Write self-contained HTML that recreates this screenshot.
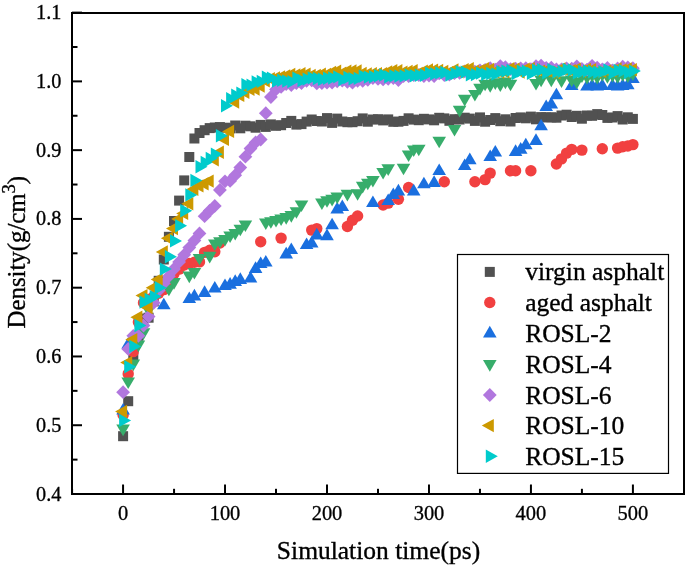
<!DOCTYPE html>
<html><head><meta charset="utf-8"><style>
html,body{margin:0;padding:0;background:#fff;width:685px;height:567px;overflow:hidden}
svg{display:block;will-change:transform;}
text{stroke:#000;stroke-width:0.35px;font-family:"Liberation Serif",serif}
</style></head><body>
<svg width="685" height="567" viewBox="0 0 685 567">
<rect width="685" height="567" fill="#fff"/>
<g><rect x="118.1" y="431.2" width="10" height="10" fill="#515151"/><rect x="123.2" y="396.2" width="10" height="10" fill="#515151"/><rect x="128.3" y="351.7" width="10" height="10" fill="#515151"/><rect x="133.4" y="330.8" width="10" height="10" fill="#515151"/><rect x="138.5" y="313.6" width="10" height="10" fill="#515151"/><rect x="143.6" y="312.7" width="10" height="10" fill="#515151"/><rect x="148.7" y="296.4" width="10" height="10" fill="#515151"/><rect x="153.7" y="275.8" width="10" height="10" fill="#515151"/><rect x="158.8" y="254.5" width="10" height="10" fill="#515151"/><rect x="163.9" y="231.8" width="10" height="10" fill="#515151"/><rect x="169.0" y="216.0" width="10" height="10" fill="#515151"/><rect x="174.1" y="195.6" width="10" height="10" fill="#515151"/><rect x="179.2" y="175.4" width="10" height="10" fill="#515151"/><rect x="184.3" y="152.0" width="10" height="10" fill="#515151"/><rect x="189.4" y="133.5" width="10" height="10" fill="#515151"/><rect x="194.5" y="128.0" width="10" height="10" fill="#515151"/><rect x="199.6" y="125.2" width="10" height="10" fill="#515151"/><rect x="204.7" y="123.1" width="10" height="10" fill="#515151"/><rect x="209.8" y="122.5" width="10" height="10" fill="#515151"/><rect x="214.9" y="122.1" width="10" height="10" fill="#515151"/><rect x="220.0" y="122.7" width="10" height="10" fill="#515151"/><rect x="225.1" y="123.4" width="10" height="10" fill="#515151"/><rect x="230.2" y="120.5" width="10" height="10" fill="#515151"/><rect x="235.3" y="123.3" width="10" height="10" fill="#515151"/><rect x="240.4" y="120.7" width="10" height="10" fill="#515151"/><rect x="245.5" y="121.3" width="10" height="10" fill="#515151"/><rect x="250.6" y="122.7" width="10" height="10" fill="#515151"/><rect x="255.7" y="119.9" width="10" height="10" fill="#515151"/><rect x="260.8" y="121.9" width="10" height="10" fill="#515151"/><rect x="265.9" y="119.4" width="10" height="10" fill="#515151"/><rect x="271.0" y="120.8" width="10" height="10" fill="#515151"/><rect x="276.1" y="120.2" width="10" height="10" fill="#515151"/><rect x="281.2" y="118.0" width="10" height="10" fill="#515151"/><rect x="286.3" y="115.9" width="10" height="10" fill="#515151"/><rect x="291.4" y="119.6" width="10" height="10" fill="#515151"/><rect x="296.5" y="119.1" width="10" height="10" fill="#515151"/><rect x="301.6" y="116.6" width="10" height="10" fill="#515151"/><rect x="306.7" y="114.5" width="10" height="10" fill="#515151"/><rect x="311.8" y="116.0" width="10" height="10" fill="#515151"/><rect x="316.9" y="116.5" width="10" height="10" fill="#515151"/><rect x="322.0" y="113.1" width="10" height="10" fill="#515151"/><rect x="327.1" y="117.9" width="10" height="10" fill="#515151"/><rect x="332.2" y="113.6" width="10" height="10" fill="#515151"/><rect x="337.3" y="116.5" width="10" height="10" fill="#515151"/><rect x="342.4" y="117.2" width="10" height="10" fill="#515151"/><rect x="347.5" y="117.2" width="10" height="10" fill="#515151"/><rect x="352.6" y="116.2" width="10" height="10" fill="#515151"/><rect x="357.7" y="113.4" width="10" height="10" fill="#515151"/><rect x="362.8" y="116.7" width="10" height="10" fill="#515151"/><rect x="367.9" y="114.5" width="10" height="10" fill="#515151"/><rect x="373.0" y="114.2" width="10" height="10" fill="#515151"/><rect x="378.1" y="115.4" width="10" height="10" fill="#515151"/><rect x="383.2" y="114.4" width="10" height="10" fill="#515151"/><rect x="388.3" y="116.8" width="10" height="10" fill="#515151"/><rect x="393.4" y="116.7" width="10" height="10" fill="#515151"/><rect x="398.5" y="115.9" width="10" height="10" fill="#515151"/><rect x="403.6" y="113.3" width="10" height="10" fill="#515151"/><rect x="408.7" y="114.6" width="10" height="10" fill="#515151"/><rect x="413.8" y="115.2" width="10" height="10" fill="#515151"/><rect x="418.9" y="113.8" width="10" height="10" fill="#515151"/><rect x="424.0" y="114.4" width="10" height="10" fill="#515151"/><rect x="429.1" y="115.3" width="10" height="10" fill="#515151"/><rect x="434.2" y="112.8" width="10" height="10" fill="#515151"/><rect x="439.3" y="113.4" width="10" height="10" fill="#515151"/><rect x="444.4" y="115.8" width="10" height="10" fill="#515151"/><rect x="449.5" y="114.2" width="10" height="10" fill="#515151"/><rect x="454.6" y="114.5" width="10" height="10" fill="#515151"/><rect x="459.7" y="112.7" width="10" height="10" fill="#515151"/><rect x="464.8" y="113.6" width="10" height="10" fill="#515151"/><rect x="469.9" y="115.9" width="10" height="10" fill="#515151"/><rect x="475.0" y="112.4" width="10" height="10" fill="#515151"/><rect x="480.1" y="116.7" width="10" height="10" fill="#515151"/><rect x="485.2" y="115.0" width="10" height="10" fill="#515151"/><rect x="490.3" y="113.1" width="10" height="10" fill="#515151"/><rect x="495.3" y="116.2" width="10" height="10" fill="#515151"/><rect x="500.4" y="114.3" width="10" height="10" fill="#515151"/><rect x="505.5" y="116.5" width="10" height="10" fill="#515151"/><rect x="510.6" y="113.0" width="10" height="10" fill="#515151"/><rect x="515.7" y="112.4" width="10" height="10" fill="#515151"/><rect x="520.8" y="113.3" width="10" height="10" fill="#515151"/><rect x="525.9" y="111.6" width="10" height="10" fill="#515151"/><rect x="531.0" y="114.3" width="10" height="10" fill="#515151"/><rect x="536.1" y="112.1" width="10" height="10" fill="#515151"/><rect x="541.2" y="112.4" width="10" height="10" fill="#515151"/><rect x="546.3" y="112.3" width="10" height="10" fill="#515151"/><rect x="551.4" y="112.7" width="10" height="10" fill="#515151"/><rect x="556.5" y="110.5" width="10" height="10" fill="#515151"/><rect x="561.6" y="109.7" width="10" height="10" fill="#515151"/><rect x="566.7" y="112.0" width="10" height="10" fill="#515151"/><rect x="571.8" y="110.8" width="10" height="10" fill="#515151"/><rect x="576.9" y="113.7" width="10" height="10" fill="#515151"/><rect x="582.0" y="110.5" width="10" height="10" fill="#515151"/><rect x="587.1" y="110.8" width="10" height="10" fill="#515151"/><rect x="592.2" y="109.1" width="10" height="10" fill="#515151"/><rect x="597.3" y="110.0" width="10" height="10" fill="#515151"/><rect x="602.4" y="112.9" width="10" height="10" fill="#515151"/><rect x="607.5" y="112.5" width="10" height="10" fill="#515151"/><rect x="612.6" y="111.1" width="10" height="10" fill="#515151"/><rect x="617.7" y="114.5" width="10" height="10" fill="#515151"/><rect x="622.8" y="112.3" width="10" height="10" fill="#515151"/><rect x="627.9" y="113.9" width="10" height="10" fill="#515151"/></g>
<g><circle cx="123.1" cy="414.9" r="5.7" fill="#F14040"/><circle cx="128.2" cy="373.9" r="5.7" fill="#F14040"/><circle cx="133.3" cy="351.6" r="5.7" fill="#F14040"/><circle cx="138.4" cy="322.1" r="5.7" fill="#F14040"/><circle cx="143.5" cy="302.8" r="5.7" fill="#F14040"/><circle cx="148.6" cy="299.4" r="5.7" fill="#F14040"/><circle cx="153.7" cy="296.6" r="5.7" fill="#F14040"/><circle cx="158.7" cy="293.2" r="5.7" fill="#F14040"/><circle cx="163.8" cy="289.6" r="5.7" fill="#F14040"/><circle cx="168.9" cy="282.2" r="5.7" fill="#F14040"/><circle cx="174.0" cy="273.6" r="5.7" fill="#F14040"/><circle cx="179.1" cy="269.1" r="5.7" fill="#F14040"/><circle cx="184.2" cy="265.0" r="5.7" fill="#F14040"/><circle cx="189.3" cy="263.4" r="5.7" fill="#F14040"/><circle cx="194.4" cy="262.2" r="5.7" fill="#F14040"/><circle cx="199.5" cy="261.9" r="5.7" fill="#F14040"/><circle cx="204.6" cy="252.4" r="5.7" fill="#F14040"/><circle cx="209.7" cy="250.3" r="5.7" fill="#F14040"/><circle cx="214.8" cy="251.7" r="5.7" fill="#F14040"/><circle cx="219.9" cy="243.0" r="5.7" fill="#F14040"/><circle cx="260.7" cy="241.8" r="5.7" fill="#F14040"/><circle cx="281.1" cy="238.1" r="5.7" fill="#F14040"/><circle cx="311.7" cy="230.1" r="5.7" fill="#F14040"/><circle cx="316.8" cy="228.6" r="5.7" fill="#F14040"/><circle cx="347.4" cy="226.5" r="5.7" fill="#F14040"/><circle cx="352.5" cy="220.3" r="5.7" fill="#F14040"/><circle cx="357.6" cy="216.0" r="5.7" fill="#F14040"/><circle cx="383.1" cy="205.0" r="5.7" fill="#F14040"/><circle cx="388.2" cy="203.1" r="5.7" fill="#F14040"/><circle cx="398.4" cy="199.2" r="5.7" fill="#F14040"/><circle cx="408.6" cy="187.5" r="5.7" fill="#F14040"/><circle cx="444.3" cy="181.8" r="5.7" fill="#F14040"/><circle cx="474.9" cy="181.8" r="5.7" fill="#F14040"/><circle cx="485.1" cy="179.6" r="5.7" fill="#F14040"/><circle cx="490.2" cy="173.1" r="5.7" fill="#F14040"/><circle cx="510.5" cy="170.8" r="5.7" fill="#F14040"/><circle cx="515.6" cy="170.8" r="5.7" fill="#F14040"/><circle cx="530.9" cy="170.8" r="5.7" fill="#F14040"/><circle cx="556.4" cy="164.0" r="5.7" fill="#F14040"/><circle cx="561.5" cy="158.9" r="5.7" fill="#F14040"/><circle cx="566.6" cy="153.1" r="5.7" fill="#F14040"/><circle cx="571.7" cy="149.4" r="5.7" fill="#F14040"/><circle cx="581.9" cy="150.1" r="5.7" fill="#F14040"/><circle cx="602.3" cy="148.8" r="5.7" fill="#F14040"/><circle cx="617.6" cy="148.1" r="5.7" fill="#F14040"/><circle cx="622.7" cy="146.7" r="5.7" fill="#F14040"/><circle cx="627.8" cy="146.0" r="5.7" fill="#F14040"/><circle cx="632.9" cy="144.6" r="5.7" fill="#F14040"/></g>
<g><path d="M123.1 402.9L129.9 414.5H116.3Z" fill="#1A6FDF"/><path d="M128.2 336.9L135.0 348.5H121.4Z" fill="#1A6FDF"/><path d="M163.8 297.7L170.6 309.3H157.0Z" fill="#1A6FDF"/><path d="M189.3 291.5L196.1 303.1H182.5Z" fill="#1A6FDF"/><path d="M194.4 288.8L201.2 300.4H187.6Z" fill="#1A6FDF"/><path d="M204.6 285.3L211.4 296.9H197.8Z" fill="#1A6FDF"/><path d="M214.8 280.9L221.6 292.5H208.0Z" fill="#1A6FDF"/><path d="M225.0 278.5L231.8 290.1H218.2Z" fill="#1A6FDF"/><path d="M230.1 277.1L236.9 288.7H223.3Z" fill="#1A6FDF"/><path d="M235.2 274.3L242.0 285.9H228.4Z" fill="#1A6FDF"/><path d="M240.3 272.3L247.1 283.9H233.5Z" fill="#1A6FDF"/><path d="M250.5 270.9L257.3 282.5H243.7Z" fill="#1A6FDF"/><path d="M255.6 261.3L262.4 272.9H248.8Z" fill="#1A6FDF"/><path d="M260.7 256.4L267.5 268.0H253.9Z" fill="#1A6FDF"/><path d="M265.8 254.9L272.6 266.5H259.0Z" fill="#1A6FDF"/><path d="M286.2 246.8L293.0 258.4H279.4Z" fill="#1A6FDF"/><path d="M291.3 242.5L298.1 254.1H284.5Z" fill="#1A6FDF"/><path d="M306.6 237.4L313.4 249.0H299.8Z" fill="#1A6FDF"/><path d="M311.7 235.8L318.5 247.4H304.9Z" fill="#1A6FDF"/><path d="M316.8 227.8L323.6 239.4H310.0Z" fill="#1A6FDF"/><path d="M327.0 228.6L333.8 240.2H320.2Z" fill="#1A6FDF"/><path d="M332.1 217.7L338.9 229.3H325.3Z" fill="#1A6FDF"/><path d="M337.2 201.8L344.0 213.4H330.4Z" fill="#1A6FDF"/><path d="M342.3 199.4L349.1 211.0H335.5Z" fill="#1A6FDF"/><path d="M372.9 195.5L379.7 207.1H366.1Z" fill="#1A6FDF"/><path d="M388.2 193.4L395.0 205.0H381.4Z" fill="#1A6FDF"/><path d="M393.3 187.5L400.1 199.1H386.5Z" fill="#1A6FDF"/><path d="M398.4 183.8L405.2 195.4H391.6Z" fill="#1A6FDF"/><path d="M413.7 183.8L420.5 195.4H406.9Z" fill="#1A6FDF"/><path d="M423.9 176.7L430.7 188.3H417.1Z" fill="#1A6FDF"/><path d="M434.1 175.3L440.9 186.9H427.3Z" fill="#1A6FDF"/><path d="M439.2 163.5L446.0 175.1H432.4Z" fill="#1A6FDF"/><path d="M464.7 158.4L471.5 170.0H457.9Z" fill="#1A6FDF"/><path d="M469.8 152.6L476.6 164.2H463.0Z" fill="#1A6FDF"/><path d="M490.2 149.4L497.0 161.0H483.4Z" fill="#1A6FDF"/><path d="M495.3 145.0L502.1 156.6H488.5Z" fill="#1A6FDF"/><path d="M515.6 144.3L522.4 155.9H508.8Z" fill="#1A6FDF"/><path d="M520.7 142.1L527.5 153.7H513.9Z" fill="#1A6FDF"/><path d="M525.8 137.7L532.6 149.3H519.0Z" fill="#1A6FDF"/><path d="M536.0 133.3L542.8 144.9H529.2Z" fill="#1A6FDF"/><path d="M541.1 118.7L547.9 130.3H534.3Z" fill="#1A6FDF"/><path d="M546.2 99.4L553.0 111.0H539.4Z" fill="#1A6FDF"/><path d="M551.3 96.9L558.1 108.5H544.5Z" fill="#1A6FDF"/><path d="M556.4 87.7L563.2 99.3H549.6Z" fill="#1A6FDF"/><path d="M571.7 78.3L578.5 89.9H564.9Z" fill="#1A6FDF"/><path d="M587.0 79.0L593.8 90.6H580.2Z" fill="#1A6FDF"/><path d="M592.1 78.3L598.9 89.9H585.3Z" fill="#1A6FDF"/><path d="M597.2 79.0L604.0 90.6H590.4Z" fill="#1A6FDF"/><path d="M602.3 78.3L609.1 89.9H595.5Z" fill="#1A6FDF"/><path d="M612.5 78.3L619.3 89.9H605.7Z" fill="#1A6FDF"/><path d="M617.6 79.0L624.4 90.6H610.8Z" fill="#1A6FDF"/><path d="M622.7 78.3L629.5 89.9H615.9Z" fill="#1A6FDF"/><path d="M627.8 77.6L634.6 89.2H621.0Z" fill="#1A6FDF"/><path d="M632.9 71.5L639.7 83.1H626.1Z" fill="#1A6FDF"/></g>
<g><path d="M123.1 436.2L129.9 424.6H116.3Z" fill="#37AD6B"/><path d="M128.2 389.1L135.0 377.5H121.4Z" fill="#37AD6B"/><path d="M133.3 371.2L140.1 359.6H126.5Z" fill="#37AD6B"/><path d="M138.4 352.2L145.2 340.6H131.6Z" fill="#37AD6B"/><path d="M143.5 339.9L150.3 328.3H136.7Z" fill="#37AD6B"/><path d="M148.6 317.6L155.4 306.0H141.8Z" fill="#37AD6B"/><path d="M168.9 296.3L175.7 284.7H162.1Z" fill="#37AD6B"/><path d="M174.0 289.7L180.8 278.1H167.2Z" fill="#37AD6B"/><path d="M189.3 283.2L196.1 271.6H182.5Z" fill="#37AD6B"/><path d="M194.4 279.5L201.2 267.9H187.6Z" fill="#37AD6B"/><path d="M199.5 265.6L206.3 254.0H192.7Z" fill="#37AD6B"/><path d="M209.7 263.4L216.5 251.8H202.9Z" fill="#37AD6B"/><path d="M214.8 251.0L221.6 239.4H208.0Z" fill="#37AD6B"/><path d="M219.9 248.8L226.7 237.2H213.1Z" fill="#37AD6B"/><path d="M225.0 246.6L231.8 235.0H218.2Z" fill="#37AD6B"/><path d="M230.1 243.0L236.9 231.4H223.3Z" fill="#37AD6B"/><path d="M235.2 240.5L242.0 228.9H228.4Z" fill="#37AD6B"/><path d="M240.3 236.3L247.1 224.7H233.5Z" fill="#37AD6B"/><path d="M245.4 232.1L252.2 220.5H238.6Z" fill="#37AD6B"/><path d="M265.8 230.0L272.6 218.4H259.0Z" fill="#37AD6B"/><path d="M270.9 228.8L277.7 217.2H264.1Z" fill="#37AD6B"/><path d="M276.0 227.5L282.8 215.9H269.2Z" fill="#37AD6B"/><path d="M281.1 226.1L287.9 214.5H274.3Z" fill="#37AD6B"/><path d="M286.2 224.7L293.0 213.1H279.4Z" fill="#37AD6B"/><path d="M291.3 222.7L298.1 211.1H284.5Z" fill="#37AD6B"/><path d="M296.4 218.8L303.2 207.2H289.6Z" fill="#37AD6B"/><path d="M301.5 212.0L308.3 200.4H294.7Z" fill="#37AD6B"/><path d="M321.9 210.0L328.7 198.4H315.1Z" fill="#37AD6B"/><path d="M327.0 207.8L333.8 196.2H320.2Z" fill="#37AD6B"/><path d="M332.1 206.4L338.9 194.8H325.3Z" fill="#37AD6B"/><path d="M337.2 204.2L344.0 192.6H330.4Z" fill="#37AD6B"/><path d="M347.4 201.4L354.2 189.8H340.6Z" fill="#37AD6B"/><path d="M357.6 200.8L364.4 189.2H350.8Z" fill="#37AD6B"/><path d="M362.7 193.4L369.5 181.8H355.9Z" fill="#37AD6B"/><path d="M367.8 190.3L374.6 178.7H361.0Z" fill="#37AD6B"/><path d="M372.9 187.6L379.7 176.0H366.1Z" fill="#37AD6B"/><path d="M383.1 179.5L389.9 167.9H376.3Z" fill="#37AD6B"/><path d="M388.2 175.9L395.0 164.3H381.4Z" fill="#37AD6B"/><path d="M403.5 175.3L410.3 163.7H396.7Z" fill="#37AD6B"/><path d="M408.6 162.1L415.4 150.5H401.8Z" fill="#37AD6B"/><path d="M413.7 157.1L420.5 145.5H406.9Z" fill="#37AD6B"/><path d="M418.8 156.3L425.6 144.7H412.0Z" fill="#37AD6B"/><path d="M439.2 148.3L446.0 136.7H432.4Z" fill="#37AD6B"/><path d="M454.5 136.6L461.3 125.0H447.7Z" fill="#37AD6B"/><path d="M459.6 117.4L466.4 105.8H452.8Z" fill="#37AD6B"/><path d="M464.7 106.4L471.5 94.8H457.9Z" fill="#37AD6B"/><path d="M474.9 101.6L481.7 90.0H468.1Z" fill="#37AD6B"/><path d="M480.0 95.4L486.8 83.8H473.2Z" fill="#37AD6B"/><path d="M485.1 91.3L491.9 79.7H478.3Z" fill="#37AD6B"/><path d="M490.2 92.7L497.0 81.1H483.4Z" fill="#37AD6B"/><path d="M495.3 89.9L502.1 78.3H488.5Z" fill="#37AD6B"/><path d="M500.3 92.0L507.1 80.4H493.5Z" fill="#37AD6B"/><path d="M505.4 89.2L512.2 77.6H498.6Z" fill="#37AD6B"/><path d="M510.5 91.3L517.3 79.7H503.7Z" fill="#37AD6B"/><path d="M536.0 90.6L542.8 79.0H529.2Z" fill="#37AD6B"/><path d="M541.1 87.2L547.9 75.6H534.3Z" fill="#37AD6B"/><path d="M551.3 87.2L558.1 75.6H544.5Z" fill="#37AD6B"/><path d="M561.5 87.9L568.3 76.3H554.7Z" fill="#37AD6B"/><path d="M571.7 87.2L578.5 75.6H564.9Z" fill="#37AD6B"/><path d="M576.8 89.2L583.6 77.6H570.0Z" fill="#37AD6B"/><path d="M581.9 83.1L588.7 71.5H575.1Z" fill="#37AD6B"/><path d="M587.0 84.4L593.8 72.8H580.2Z" fill="#37AD6B"/><path d="M592.1 82.4L598.9 70.8H585.3Z" fill="#37AD6B"/><path d="M597.2 84.4L604.0 72.8H590.4Z" fill="#37AD6B"/><path d="M602.3 81.7L609.1 70.1H595.5Z" fill="#37AD6B"/><path d="M607.4 83.7L614.2 72.1H600.6Z" fill="#37AD6B"/><path d="M612.5 82.4L619.3 70.8H605.7Z" fill="#37AD6B"/><path d="M617.6 83.7L624.4 72.1H610.8Z" fill="#37AD6B"/><path d="M622.7 81.7L629.5 70.1H615.9Z" fill="#37AD6B"/><path d="M627.8 83.1L634.6 71.5H621.0Z" fill="#37AD6B"/><path d="M632.9 81.0L639.7 69.4H626.1Z" fill="#37AD6B"/></g>
<g><path d="M123.1 385.3L130.0 392.2L123.1 399.1L116.2 392.2Z" fill="#B177DE"/><path d="M128.2 342.0L135.1 348.9L128.2 355.8L121.3 348.9Z" fill="#B177DE"/><path d="M133.3 328.9L140.2 335.8L133.3 342.7L126.4 335.8Z" fill="#B177DE"/><path d="M138.4 328.9L145.3 335.8L138.4 342.7L131.5 335.8Z" fill="#B177DE"/><path d="M143.5 318.6L150.4 325.5L143.5 332.4L136.6 325.5Z" fill="#B177DE"/><path d="M148.6 309.7L155.5 316.6L148.6 323.5L141.7 316.6Z" fill="#B177DE"/><path d="M153.7 295.9L160.6 302.8L153.7 309.7L146.8 302.8Z" fill="#B177DE"/><path d="M158.7 283.5L165.6 290.4L158.7 297.3L151.8 290.4Z" fill="#B177DE"/><path d="M163.8 276.4L170.7 283.3L163.8 290.2L156.9 283.3Z" fill="#B177DE"/><path d="M168.9 269.3L175.8 276.2L168.9 283.1L162.0 276.2Z" fill="#B177DE"/><path d="M174.0 262.1L180.9 269.0L174.0 275.9L167.1 269.0Z" fill="#B177DE"/><path d="M179.1 255.0L186.0 261.9L179.1 268.8L172.2 261.9Z" fill="#B177DE"/><path d="M184.2 247.9L191.1 254.8L184.2 261.7L177.3 254.8Z" fill="#B177DE"/><path d="M189.3 240.7L196.2 247.6L189.3 254.5L182.4 247.6Z" fill="#B177DE"/><path d="M194.4 233.6L201.3 240.5L194.4 247.4L187.5 240.5Z" fill="#B177DE"/><path d="M199.5 226.5L206.4 233.4L199.5 240.3L192.6 233.4Z" fill="#B177DE"/><path d="M204.6 209.3L211.5 216.2L204.6 223.1L197.7 216.2Z" fill="#B177DE"/><path d="M209.7 203.8L216.6 210.7L209.7 217.6L202.8 210.7Z" fill="#B177DE"/><path d="M214.8 199.0L221.7 205.9L214.8 212.8L207.9 205.9Z" fill="#B177DE"/><path d="M219.9 183.1L226.8 190.0L219.9 196.9L213.0 190.0Z" fill="#B177DE"/><path d="M225.0 174.4L231.9 181.3L225.0 188.2L218.1 181.3Z" fill="#B177DE"/><path d="M230.1 174.0L237.0 180.9L230.1 187.8L223.2 180.9Z" fill="#B177DE"/><path d="M235.2 168.3L242.1 175.2L235.2 182.1L228.3 175.2Z" fill="#B177DE"/><path d="M240.3 160.6L247.2 167.5L240.3 174.4L233.4 167.5Z" fill="#B177DE"/><path d="M245.4 149.8L252.3 156.7L245.4 163.6L238.5 156.7Z" fill="#B177DE"/><path d="M250.5 141.6L257.4 148.5L250.5 155.4L243.6 148.5Z" fill="#B177DE"/><path d="M255.6 135.5L262.5 142.4L255.6 149.3L248.7 142.4Z" fill="#B177DE"/><path d="M260.7 132.6L267.6 139.5L260.7 146.4L253.8 139.5Z" fill="#B177DE"/><path d="M265.8 106.3L272.7 113.2L265.8 120.1L258.9 113.2Z" fill="#B177DE"/><path d="M270.9 90.1L277.8 97.0L270.9 103.9L264.0 97.0Z" fill="#B177DE"/><path d="M276.0 82.5L282.9 89.4L276.0 96.3L269.1 89.4Z" fill="#B177DE"/><path d="M281.1 80.0L288.0 86.9L281.1 93.8L274.2 86.9Z" fill="#B177DE"/><path d="M286.2 77.1L293.1 84.0L286.2 90.9L279.3 84.0Z" fill="#B177DE"/><path d="M291.3 78.1L298.2 85.0L291.3 91.9L284.4 85.0Z" fill="#B177DE"/><path d="M296.4 76.2L303.3 83.1L296.4 90.0L289.5 83.1Z" fill="#B177DE"/><path d="M301.5 76.2L308.4 83.1L301.5 90.0L294.6 83.1Z" fill="#B177DE"/><path d="M306.6 73.9L313.5 80.8L306.6 87.7L299.7 80.8Z" fill="#B177DE"/><path d="M311.7 73.4L318.6 80.3L311.7 87.2L304.8 80.3Z" fill="#B177DE"/><path d="M316.8 76.5L323.7 83.4L316.8 90.3L309.9 83.4Z" fill="#B177DE"/><path d="M321.9 76.2L328.8 83.1L321.9 90.0L315.0 83.1Z" fill="#B177DE"/><path d="M327.0 75.8L333.9 82.7L327.0 89.6L320.1 82.7Z" fill="#B177DE"/><path d="M332.1 75.6L339.0 82.5L332.1 89.4L325.2 82.5Z" fill="#B177DE"/><path d="M337.2 74.4L344.1 81.3L337.2 88.2L330.3 81.3Z" fill="#B177DE"/><path d="M342.3 73.8L349.2 80.7L342.3 87.6L335.4 80.7Z" fill="#B177DE"/><path d="M347.4 74.9L354.3 81.8L347.4 88.7L340.5 81.8Z" fill="#B177DE"/><path d="M352.5 75.8L359.4 82.7L352.5 89.6L345.6 82.7Z" fill="#B177DE"/><path d="M357.6 73.9L364.5 80.8L357.6 87.7L350.7 80.8Z" fill="#B177DE"/><path d="M362.7 73.9L369.6 80.8L362.7 87.7L355.8 80.8Z" fill="#B177DE"/><path d="M367.8 72.9L374.7 79.8L367.8 86.7L360.9 79.8Z" fill="#B177DE"/><path d="M372.9 71.1L379.8 78.0L372.9 84.9L366.0 78.0Z" fill="#B177DE"/><path d="M378.0 72.0L384.9 78.9L378.0 85.8L371.1 78.9Z" fill="#B177DE"/><path d="M383.1 72.5L390.0 79.4L383.1 86.3L376.2 79.4Z" fill="#B177DE"/><path d="M388.2 71.9L395.1 78.8L388.2 85.7L381.3 78.8Z" fill="#B177DE"/><path d="M393.3 71.2L400.2 78.1L393.3 85.0L386.4 78.1Z" fill="#B177DE"/><path d="M398.4 73.2L405.3 80.1L398.4 87.0L391.5 80.1Z" fill="#B177DE"/><path d="M403.5 69.2L410.4 76.1L403.5 83.0L396.6 76.1Z" fill="#B177DE"/><path d="M408.6 69.2L415.5 76.1L408.6 83.0L401.7 76.1Z" fill="#B177DE"/><path d="M413.7 68.3L420.6 75.2L413.7 82.1L406.8 75.2Z" fill="#B177DE"/><path d="M418.8 68.1L425.7 75.0L418.8 81.9L411.9 75.0Z" fill="#B177DE"/><path d="M423.9 69.3L430.8 76.2L423.9 83.1L417.0 76.2Z" fill="#B177DE"/><path d="M429.0 68.7L435.9 75.6L429.0 82.5L422.1 75.6Z" fill="#B177DE"/><path d="M434.1 69.3L441.0 76.2L434.1 83.1L427.2 76.2Z" fill="#B177DE"/><path d="M439.2 66.5L446.1 73.4L439.2 80.3L432.3 73.4Z" fill="#B177DE"/><path d="M444.3 68.2L451.2 75.1L444.3 82.0L437.4 75.1Z" fill="#B177DE"/><path d="M449.4 67.6L456.3 74.5L449.4 81.4L442.5 74.5Z" fill="#B177DE"/><path d="M454.5 66.3L461.4 73.2L454.5 80.1L447.6 73.2Z" fill="#B177DE"/><path d="M459.6 65.9L466.5 72.8L459.6 79.7L452.7 72.8Z" fill="#B177DE"/><path d="M464.7 64.5L471.6 71.4L464.7 78.3L457.8 71.4Z" fill="#B177DE"/><path d="M469.8 65.1L476.7 72.0L469.8 78.9L462.9 72.0Z" fill="#B177DE"/><path d="M474.9 64.7L481.8 71.6L474.9 78.5L468.0 71.6Z" fill="#B177DE"/><path d="M480.0 63.4L486.9 70.3L480.0 77.2L473.1 70.3Z" fill="#B177DE"/><path d="M485.1 63.0L492.0 69.9L485.1 76.8L478.2 69.9Z" fill="#B177DE"/><path d="M490.2 61.3L497.1 68.2L490.2 75.1L483.3 68.2Z" fill="#B177DE"/><path d="M495.3 62.7L502.2 69.6L495.3 76.5L488.4 69.6Z" fill="#B177DE"/><path d="M500.3 59.2L507.2 66.1L500.3 73.0L493.4 66.1Z" fill="#B177DE"/><path d="M505.4 60.3L512.3 67.2L505.4 74.1L498.5 67.2Z" fill="#B177DE"/><path d="M510.5 62.2L517.4 69.1L510.5 76.0L503.6 69.1Z" fill="#B177DE"/><path d="M515.6 61.7L522.5 68.6L515.6 75.5L508.7 68.6Z" fill="#B177DE"/><path d="M520.7 61.4L527.6 68.3L520.7 75.2L513.8 68.3Z" fill="#B177DE"/><path d="M525.8 61.3L532.7 68.2L525.8 75.1L518.9 68.2Z" fill="#B177DE"/><path d="M530.9 62.3L537.8 69.2L530.9 76.1L524.0 69.2Z" fill="#B177DE"/><path d="M536.0 59.3L542.9 66.2L536.0 73.1L529.1 66.2Z" fill="#B177DE"/><path d="M541.1 58.7L548.0 65.6L541.1 72.5L534.2 65.6Z" fill="#B177DE"/><path d="M546.2 60.9L553.1 67.8L546.2 74.7L539.3 67.8Z" fill="#B177DE"/><path d="M551.3 60.8L558.2 67.7L551.3 74.6L544.4 67.7Z" fill="#B177DE"/><path d="M556.4 62.4L563.3 69.3L556.4 76.2L549.5 69.3Z" fill="#B177DE"/><path d="M561.5 62.4L568.4 69.3L561.5 76.2L554.6 69.3Z" fill="#B177DE"/><path d="M566.6 61.4L573.5 68.3L566.6 75.2L559.7 68.3Z" fill="#B177DE"/><path d="M571.7 61.7L578.6 68.6L571.7 75.5L564.8 68.6Z" fill="#B177DE"/><path d="M576.8 59.4L583.7 66.3L576.8 73.2L569.9 66.3Z" fill="#B177DE"/><path d="M581.9 62.1L588.8 69.0L581.9 75.9L575.0 69.0Z" fill="#B177DE"/><path d="M587.0 62.7L593.9 69.6L587.0 76.5L580.1 69.6Z" fill="#B177DE"/><path d="M592.1 58.9L599.0 65.8L592.1 72.7L585.2 65.8Z" fill="#B177DE"/><path d="M597.2 60.8L604.1 67.7L597.2 74.6L590.3 67.7Z" fill="#B177DE"/><path d="M602.3 62.5L609.2 69.4L602.3 76.3L595.4 69.4Z" fill="#B177DE"/><path d="M607.4 61.1L614.3 68.0L607.4 74.9L600.5 68.0Z" fill="#B177DE"/><path d="M612.5 63.4L619.4 70.3L612.5 77.2L605.6 70.3Z" fill="#B177DE"/><path d="M617.6 61.5L624.5 68.4L617.6 75.3L610.7 68.4Z" fill="#B177DE"/><path d="M622.7 59.8L629.6 66.7L622.7 73.6L615.8 66.7Z" fill="#B177DE"/><path d="M627.8 60.4L634.7 67.3L627.8 74.2L620.9 67.3Z" fill="#B177DE"/><path d="M632.9 61.3L639.8 68.2L632.9 75.1L626.0 68.2Z" fill="#B177DE"/></g>
<g><path d="M115.1 411.5L127.1 404.8V418.2Z" fill="#CC9900"/><path d="M120.2 362.6L132.2 355.9V369.3Z" fill="#CC9900"/><path d="M125.3 339.6L137.3 332.9V346.3Z" fill="#CC9900"/><path d="M130.4 317.3L142.4 310.6V324.0Z" fill="#CC9900"/><path d="M135.5 295.6L147.5 288.9V302.3Z" fill="#CC9900"/><path d="M140.6 307.6L152.6 300.9V314.3Z" fill="#CC9900"/><path d="M145.7 287.7L157.7 281.0V294.4Z" fill="#CC9900"/><path d="M150.7 279.4L162.7 272.7V286.1Z" fill="#CC9900"/><path d="M155.8 251.9L167.8 245.2V258.6Z" fill="#CC9900"/><path d="M160.9 238.2L172.9 231.5V244.9Z" fill="#CC9900"/><path d="M166.0 228.5L178.0 221.8V235.2Z" fill="#CC9900"/><path d="M171.1 218.9L183.1 212.2V225.6Z" fill="#CC9900"/><path d="M176.2 213.4L188.2 206.7V220.1Z" fill="#CC9900"/><path d="M181.3 203.8L193.3 197.1V210.5Z" fill="#CC9900"/><path d="M186.4 189.3L198.4 182.6V196.0Z" fill="#CC9900"/><path d="M191.5 185.9L203.5 179.2V192.6Z" fill="#CC9900"/><path d="M196.6 183.8L208.6 177.1V190.5Z" fill="#CC9900"/><path d="M201.7 181.1L213.7 174.4V187.8Z" fill="#CC9900"/><path d="M206.8 159.8L218.8 153.1V166.5Z" fill="#CC9900"/><path d="M211.9 152.2L223.9 145.5V158.9Z" fill="#CC9900"/><path d="M217.0 139.4L229.0 132.7V146.1Z" fill="#CC9900"/><path d="M222.1 131.4L234.1 124.7V138.1Z" fill="#CC9900"/><path d="M227.2 102.0L239.2 95.3V108.7Z" fill="#CC9900"/><path d="M232.3 95.4L244.3 88.7V102.1Z" fill="#CC9900"/><path d="M237.4 92.2L249.4 85.5V98.9Z" fill="#CC9900"/><path d="M242.5 89.2L254.5 82.5V95.9Z" fill="#CC9900"/><path d="M247.6 89.0L259.6 82.3V95.7Z" fill="#CC9900"/><path d="M252.7 86.0L264.7 79.3V92.7Z" fill="#CC9900"/><path d="M257.8 80.8L269.8 74.1V87.5Z" fill="#CC9900"/><path d="M262.9 78.7L274.9 72.0V85.4Z" fill="#CC9900"/><path d="M268.0 77.9L280.0 71.2V84.6Z" fill="#CC9900"/><path d="M273.1 77.0L285.1 70.3V83.7Z" fill="#CC9900"/><path d="M278.2 75.9L290.2 69.2V82.6Z" fill="#CC9900"/><path d="M283.3 74.5L295.3 67.8V81.2Z" fill="#CC9900"/><path d="M288.4 74.9L300.4 68.2V81.6Z" fill="#CC9900"/><path d="M293.5 73.7L305.5 67.0V80.4Z" fill="#CC9900"/><path d="M298.6 74.3L310.6 67.6V81.0Z" fill="#CC9900"/><path d="M303.7 75.5L315.7 68.8V82.2Z" fill="#CC9900"/><path d="M308.8 75.5L320.8 68.8V82.2Z" fill="#CC9900"/><path d="M313.9 74.3L325.9 67.6V81.0Z" fill="#CC9900"/><path d="M319.0 74.4L331.0 67.7V81.1Z" fill="#CC9900"/><path d="M324.1 72.5L336.1 65.8V79.2Z" fill="#CC9900"/><path d="M329.2 71.3L341.2 64.6V78.0Z" fill="#CC9900"/><path d="M334.3 73.3L346.3 66.6V80.0Z" fill="#CC9900"/><path d="M339.4 71.2L351.4 64.5V77.9Z" fill="#CC9900"/><path d="M344.5 71.0L356.5 64.3V77.7Z" fill="#CC9900"/><path d="M349.6 71.0L361.6 64.3V77.7Z" fill="#CC9900"/><path d="M354.7 73.4L366.7 66.7V80.1Z" fill="#CC9900"/><path d="M359.8 73.9L371.8 67.2V80.6Z" fill="#CC9900"/><path d="M364.9 73.8L376.9 67.1V80.5Z" fill="#CC9900"/><path d="M370.0 73.8L382.0 67.1V80.5Z" fill="#CC9900"/><path d="M375.1 73.7L387.1 67.0V80.4Z" fill="#CC9900"/><path d="M380.2 71.9L392.2 65.2V78.6Z" fill="#CC9900"/><path d="M385.3 70.7L397.3 64.0V77.4Z" fill="#CC9900"/><path d="M390.4 70.8L402.4 64.1V77.5Z" fill="#CC9900"/><path d="M395.5 72.2L407.5 65.5V78.9Z" fill="#CC9900"/><path d="M400.6 71.4L412.6 64.7V78.1Z" fill="#CC9900"/><path d="M405.7 70.7L417.7 64.0V77.4Z" fill="#CC9900"/><path d="M410.8 73.5L422.8 66.8V80.2Z" fill="#CC9900"/><path d="M415.9 71.1L427.9 64.4V77.8Z" fill="#CC9900"/><path d="M421.0 69.9L433.0 63.2V76.6Z" fill="#CC9900"/><path d="M426.1 70.3L438.1 63.6V77.0Z" fill="#CC9900"/><path d="M431.2 70.4L443.2 63.7V77.1Z" fill="#CC9900"/><path d="M436.3 71.4L448.3 64.7V78.1Z" fill="#CC9900"/><path d="M441.4 72.5L453.4 65.8V79.2Z" fill="#CC9900"/><path d="M446.5 69.9L458.5 63.2V76.6Z" fill="#CC9900"/><path d="M451.6 71.7L463.6 65.0V78.4Z" fill="#CC9900"/><path d="M456.7 69.7L468.7 63.0V76.4Z" fill="#CC9900"/><path d="M461.8 68.8L473.8 62.1V75.5Z" fill="#CC9900"/><path d="M466.9 71.1L478.9 64.4V77.8Z" fill="#CC9900"/><path d="M472.0 71.0L484.0 64.3V77.7Z" fill="#CC9900"/><path d="M477.1 68.6L489.1 61.9V75.3Z" fill="#CC9900"/><path d="M482.2 69.4L494.2 62.7V76.1Z" fill="#CC9900"/><path d="M487.3 71.8L499.3 65.1V78.5Z" fill="#CC9900"/><path d="M492.3 72.0L504.3 65.3V78.7Z" fill="#CC9900"/><path d="M497.4 71.9L509.4 65.2V78.6Z" fill="#CC9900"/><path d="M502.5 68.8L514.5 62.1V75.5Z" fill="#CC9900"/><path d="M507.6 69.3L519.6 62.6V76.0Z" fill="#CC9900"/><path d="M512.7 72.0L524.7 65.3V78.7Z" fill="#CC9900"/><path d="M517.8 69.3L529.8 62.6V76.0Z" fill="#CC9900"/><path d="M522.9 68.7L534.9 62.0V75.4Z" fill="#CC9900"/><path d="M528.0 70.0L540.0 63.3V76.7Z" fill="#CC9900"/><path d="M533.1 71.3L545.1 64.6V78.0Z" fill="#CC9900"/><path d="M538.2 70.6L550.2 63.9V77.3Z" fill="#CC9900"/><path d="M543.3 72.3L555.3 65.6V79.0Z" fill="#CC9900"/><path d="M548.4 72.8L560.4 66.1V79.5Z" fill="#CC9900"/><path d="M553.5 68.9L565.5 62.2V75.6Z" fill="#CC9900"/><path d="M558.6 70.3L570.6 63.6V77.0Z" fill="#CC9900"/><path d="M563.7 70.8L575.7 64.1V77.5Z" fill="#CC9900"/><path d="M568.8 69.2L580.8 62.5V75.9Z" fill="#CC9900"/><path d="M573.9 71.3L585.9 64.6V78.0Z" fill="#CC9900"/><path d="M579.0 69.5L591.0 62.8V76.2Z" fill="#CC9900"/><path d="M584.1 69.7L596.1 63.0V76.4Z" fill="#CC9900"/><path d="M589.2 71.9L601.2 65.2V78.6Z" fill="#CC9900"/><path d="M594.3 71.4L606.3 64.7V78.1Z" fill="#CC9900"/><path d="M599.4 70.9L611.4 64.2V77.6Z" fill="#CC9900"/><path d="M604.5 70.8L616.5 64.1V77.5Z" fill="#CC9900"/><path d="M609.6 69.0L621.6 62.3V75.7Z" fill="#CC9900"/><path d="M614.7 70.0L626.7 63.3V76.7Z" fill="#CC9900"/><path d="M619.8 69.0L631.8 62.3V75.7Z" fill="#CC9900"/><path d="M624.9 69.8L636.9 63.1V76.5Z" fill="#CC9900"/></g>
<g><path d="M131.1 420.4L119.1 413.7V427.1Z" fill="#00CBCC"/><path d="M136.2 366.8L124.2 360.1V373.5Z" fill="#00CBCC"/><path d="M141.3 346.4L129.3 339.7V353.1Z" fill="#00CBCC"/><path d="M146.4 325.5L134.4 318.8V332.2Z" fill="#00CBCC"/><path d="M151.5 302.1L139.5 295.4V308.8Z" fill="#00CBCC"/><path d="M156.6 299.4L144.6 292.7V306.1Z" fill="#00CBCC"/><path d="M161.7 296.6L149.7 289.9V303.3Z" fill="#00CBCC"/><path d="M166.7 287.7L154.7 281.0V294.4Z" fill="#00CBCC"/><path d="M171.8 269.1L159.8 262.4V275.8Z" fill="#00CBCC"/><path d="M176.9 256.7L164.9 250.0V263.4Z" fill="#00CBCC"/><path d="M182.0 240.9L170.0 234.2V247.6Z" fill="#00CBCC"/><path d="M187.1 225.8L175.1 219.1V232.5Z" fill="#00CBCC"/><path d="M192.2 210.7L180.2 204.0V217.4Z" fill="#00CBCC"/><path d="M197.3 194.9L185.3 188.2V201.6Z" fill="#00CBCC"/><path d="M202.4 180.4L190.4 173.7V187.1Z" fill="#00CBCC"/><path d="M207.5 166.7L195.5 160.0V173.4Z" fill="#00CBCC"/><path d="M212.6 162.5L200.6 155.8V169.2Z" fill="#00CBCC"/><path d="M217.7 158.4L205.7 151.7V165.1Z" fill="#00CBCC"/><path d="M222.8 154.3L210.8 147.6V161.0Z" fill="#00CBCC"/><path d="M227.9 135.7L215.9 129.0V142.4Z" fill="#00CBCC"/><path d="M233.0 105.8L221.0 99.1V112.5Z" fill="#00CBCC"/><path d="M238.1 98.8L226.1 92.1V105.5Z" fill="#00CBCC"/><path d="M243.2 95.3L231.2 88.6V102.0Z" fill="#00CBCC"/><path d="M248.3 93.1L236.3 86.4V99.8Z" fill="#00CBCC"/><path d="M253.4 84.8L241.4 78.1V91.5Z" fill="#00CBCC"/><path d="M258.5 85.1L246.5 78.4V91.8Z" fill="#00CBCC"/><path d="M263.6 81.9L251.6 75.2V88.6Z" fill="#00CBCC"/><path d="M268.7 81.4L256.7 74.7V88.1Z" fill="#00CBCC"/><path d="M273.8 77.1L261.8 70.4V83.8Z" fill="#00CBCC"/><path d="M278.9 78.1L266.9 71.4V84.8Z" fill="#00CBCC"/><path d="M284.0 81.1L272.0 74.4V87.8Z" fill="#00CBCC"/><path d="M289.1 80.3L277.1 73.6V87.0Z" fill="#00CBCC"/><path d="M294.2 81.1L282.2 74.4V87.8Z" fill="#00CBCC"/><path d="M299.3 81.6L287.3 74.9V88.3Z" fill="#00CBCC"/><path d="M304.4 78.1L292.4 71.4V84.8Z" fill="#00CBCC"/><path d="M309.5 80.5L297.5 73.8V87.2Z" fill="#00CBCC"/><path d="M314.6 79.1L302.6 72.4V85.8Z" fill="#00CBCC"/><path d="M319.7 77.9L307.7 71.2V84.6Z" fill="#00CBCC"/><path d="M324.8 78.5L312.8 71.8V85.2Z" fill="#00CBCC"/><path d="M329.9 79.3L317.9 72.6V86.0Z" fill="#00CBCC"/><path d="M335.0 78.3L323.0 71.6V85.0Z" fill="#00CBCC"/><path d="M340.1 78.0L328.1 71.3V84.7Z" fill="#00CBCC"/><path d="M345.2 76.9L333.2 70.2V83.6Z" fill="#00CBCC"/><path d="M350.3 79.6L338.3 72.9V86.3Z" fill="#00CBCC"/><path d="M355.4 77.5L343.4 70.8V84.2Z" fill="#00CBCC"/><path d="M360.5 78.7L348.5 72.0V85.4Z" fill="#00CBCC"/><path d="M365.6 78.4L353.6 71.7V85.1Z" fill="#00CBCC"/><path d="M370.7 76.2L358.7 69.5V82.9Z" fill="#00CBCC"/><path d="M375.8 77.1L363.8 70.4V83.8Z" fill="#00CBCC"/><path d="M380.9 76.8L368.9 70.1V83.5Z" fill="#00CBCC"/><path d="M386.0 75.8L374.0 69.1V82.5Z" fill="#00CBCC"/><path d="M391.1 75.0L379.1 68.3V81.7Z" fill="#00CBCC"/><path d="M396.2 76.8L384.2 70.1V83.5Z" fill="#00CBCC"/><path d="M401.3 75.9L389.3 69.2V82.6Z" fill="#00CBCC"/><path d="M406.4 76.1L394.4 69.4V82.8Z" fill="#00CBCC"/><path d="M411.5 75.9L399.5 69.2V82.6Z" fill="#00CBCC"/><path d="M416.6 74.9L404.6 68.2V81.6Z" fill="#00CBCC"/><path d="M421.7 75.7L409.7 69.0V82.4Z" fill="#00CBCC"/><path d="M426.8 75.2L414.8 68.5V81.9Z" fill="#00CBCC"/><path d="M431.9 75.2L419.9 68.5V81.9Z" fill="#00CBCC"/><path d="M437.0 73.1L425.0 66.4V79.8Z" fill="#00CBCC"/><path d="M442.1 73.9L430.1 67.2V80.6Z" fill="#00CBCC"/><path d="M447.2 72.9L435.2 66.2V79.6Z" fill="#00CBCC"/><path d="M452.3 72.5L440.3 65.8V79.2Z" fill="#00CBCC"/><path d="M457.4 75.1L445.4 68.4V81.8Z" fill="#00CBCC"/><path d="M462.5 73.6L450.5 66.9V80.3Z" fill="#00CBCC"/><path d="M467.6 71.8L455.6 65.1V78.5Z" fill="#00CBCC"/><path d="M472.7 72.1L460.7 65.4V78.8Z" fill="#00CBCC"/><path d="M477.8 74.8L465.8 68.1V81.5Z" fill="#00CBCC"/><path d="M482.9 74.6L470.9 67.9V81.3Z" fill="#00CBCC"/><path d="M488.0 73.1L476.0 66.4V79.8Z" fill="#00CBCC"/><path d="M493.1 74.4L481.1 67.7V81.1Z" fill="#00CBCC"/><path d="M498.2 73.5L486.2 66.8V80.2Z" fill="#00CBCC"/><path d="M503.3 74.1L491.3 67.4V80.8Z" fill="#00CBCC"/><path d="M508.3 71.6L496.3 64.9V78.3Z" fill="#00CBCC"/><path d="M513.4 71.1L501.4 64.4V77.8Z" fill="#00CBCC"/><path d="M518.5 70.5L506.5 63.8V77.2Z" fill="#00CBCC"/><path d="M523.6 73.5L511.6 66.8V80.2Z" fill="#00CBCC"/><path d="M528.7 71.1L516.7 64.4V77.8Z" fill="#00CBCC"/><path d="M533.8 71.3L521.8 64.6V78.0Z" fill="#00CBCC"/><path d="M538.9 73.4L526.9 66.7V80.1Z" fill="#00CBCC"/><path d="M544.0 70.2L532.0 63.5V76.9Z" fill="#00CBCC"/><path d="M549.1 69.8L537.1 63.1V76.5Z" fill="#00CBCC"/><path d="M554.2 72.8L542.2 66.1V79.5Z" fill="#00CBCC"/><path d="M559.3 69.7L547.3 63.0V76.4Z" fill="#00CBCC"/><path d="M564.4 72.0L552.4 65.3V78.7Z" fill="#00CBCC"/><path d="M569.5 71.5L557.5 64.8V78.2Z" fill="#00CBCC"/><path d="M574.6 69.4L562.6 62.7V76.1Z" fill="#00CBCC"/><path d="M579.7 70.0L567.7 63.3V76.7Z" fill="#00CBCC"/><path d="M584.8 72.7L572.8 66.0V79.4Z" fill="#00CBCC"/><path d="M589.9 71.5L577.9 64.8V78.2Z" fill="#00CBCC"/><path d="M595.0 71.1L583.0 64.4V77.8Z" fill="#00CBCC"/><path d="M600.1 71.7L588.1 65.0V78.4Z" fill="#00CBCC"/><path d="M605.2 72.2L593.2 65.5V78.9Z" fill="#00CBCC"/><path d="M610.3 71.6L598.3 64.9V78.3Z" fill="#00CBCC"/><path d="M615.4 69.9L603.4 63.2V76.6Z" fill="#00CBCC"/><path d="M620.5 72.7L608.5 66.0V79.4Z" fill="#00CBCC"/><path d="M625.6 70.4L613.6 63.7V77.1Z" fill="#00CBCC"/><path d="M630.7 70.8L618.7 64.1V77.5Z" fill="#00CBCC"/><path d="M635.8 72.5L623.8 65.8V79.2Z" fill="#00CBCC"/><path d="M640.9 71.1L628.9 64.4V77.8Z" fill="#00CBCC"/></g>
<rect x="72" y="13" width="612" height="481" fill="none" stroke="#000" stroke-width="2"/>
<line x1="72" y1="494.00" x2="82" y2="494.00" stroke="#000" stroke-width="2"/>
<line x1="72" y1="459.62" x2="77.5" y2="459.62" stroke="#000" stroke-width="2"/>
<line x1="72" y1="425.23" x2="82" y2="425.23" stroke="#000" stroke-width="2"/>
<line x1="72" y1="390.84" x2="77.5" y2="390.84" stroke="#000" stroke-width="2"/>
<line x1="72" y1="356.46" x2="82" y2="356.46" stroke="#000" stroke-width="2"/>
<line x1="72" y1="322.07" x2="77.5" y2="322.07" stroke="#000" stroke-width="2"/>
<line x1="72" y1="287.69" x2="82" y2="287.69" stroke="#000" stroke-width="2"/>
<line x1="72" y1="253.30" x2="77.5" y2="253.30" stroke="#000" stroke-width="2"/>
<line x1="72" y1="218.92" x2="82" y2="218.92" stroke="#000" stroke-width="2"/>
<line x1="72" y1="184.53" x2="77.5" y2="184.53" stroke="#000" stroke-width="2"/>
<line x1="72" y1="150.15" x2="82" y2="150.15" stroke="#000" stroke-width="2"/>
<line x1="72" y1="115.76" x2="77.5" y2="115.76" stroke="#000" stroke-width="2"/>
<line x1="72" y1="81.38" x2="82" y2="81.38" stroke="#000" stroke-width="2"/>
<line x1="72" y1="46.99" x2="77.5" y2="46.99" stroke="#000" stroke-width="2"/>
<line x1="72" y1="12.61" x2="82" y2="12.61" stroke="#000" stroke-width="2"/>
<line x1="123.06" y1="494" x2="123.06" y2="484.5" stroke="#000" stroke-width="2"/>
<line x1="225.03" y1="494" x2="225.03" y2="484.5" stroke="#000" stroke-width="2"/>
<line x1="327.00" y1="494" x2="327.00" y2="484.5" stroke="#000" stroke-width="2"/>
<line x1="428.97" y1="494" x2="428.97" y2="484.5" stroke="#000" stroke-width="2"/>
<line x1="530.94" y1="494" x2="530.94" y2="484.5" stroke="#000" stroke-width="2"/>
<line x1="632.91" y1="494" x2="632.91" y2="484.5" stroke="#000" stroke-width="2"/>
<line x1="72.08" y1="494" x2="72.08" y2="488.8" stroke="#000" stroke-width="2"/>
<line x1="174.05" y1="494" x2="174.05" y2="488.8" stroke="#000" stroke-width="2"/>
<line x1="276.01" y1="494" x2="276.01" y2="488.8" stroke="#000" stroke-width="2"/>
<line x1="377.99" y1="494" x2="377.99" y2="488.8" stroke="#000" stroke-width="2"/>
<line x1="479.96" y1="494" x2="479.96" y2="488.8" stroke="#000" stroke-width="2"/>
<line x1="581.92" y1="494" x2="581.92" y2="488.8" stroke="#000" stroke-width="2"/>
<rect x="457.5" y="254.5" width="211" height="218.9" fill="#fff" stroke="#000" stroke-width="1.2"/>
<rect x="484.8" y="266.9" width="10" height="10" fill="#515151"/>
<text x="525.2" y="280.3" font-size="25.5">virgin asphalt</text>
<circle cx="489.8" cy="302.5" r="5.7" fill="#F14040"/>
<text x="525.2" y="311.1" font-size="25.5">aged asphalt</text>
<path d="M489.8 325.8L496.6 337.4H483.0Z" fill="#1A6FDF"/>
<text x="525.2" y="341.9" font-size="25.5">ROSL-2</text>
<path d="M489.8 371.7L496.6 360.1H483.0Z" fill="#37AD6B"/>
<text x="525.2" y="372.8" font-size="25.5">ROSL-4</text>
<path d="M489.8 388.1L496.7 395.0L489.8 401.9L482.9 395.0Z" fill="#B177DE"/>
<text x="525.2" y="403.6" font-size="25.5">ROSL-6</text>
<path d="M481.8 425.6L493.8 418.9V432.3Z" fill="#CC9900"/>
<text x="525.2" y="434.4" font-size="25.5">ROSL-10</text>
<path d="M497.8 456.3L485.8 449.6V463.0Z" fill="#00CBCC"/>
<text x="525.2" y="465.2" font-size="25.5">ROSL-15</text>
<text transform="translate(61.3 500.5) scale(0.92 1)" text-anchor="end" font-size="22">0.4</text>
<text transform="translate(61.3 431.7) scale(0.92 1)" text-anchor="end" font-size="22">0.5</text>
<text transform="translate(61.3 363.0) scale(0.92 1)" text-anchor="end" font-size="22">0.6</text>
<text transform="translate(61.3 294.2) scale(0.92 1)" text-anchor="end" font-size="22">0.7</text>
<text transform="translate(61.3 225.4) scale(0.92 1)" text-anchor="end" font-size="22">0.8</text>
<text transform="translate(61.3 156.6) scale(0.92 1)" text-anchor="end" font-size="22">0.9</text>
<text transform="translate(61.3 87.9) scale(0.92 1)" text-anchor="end" font-size="22">1.0</text>
<text transform="translate(61.3 19.1) scale(0.92 1)" text-anchor="end" font-size="22">1.1</text>
<text transform="translate(123.1 520.2) scale(0.93 1)" text-anchor="middle" font-size="22">0</text>
<text transform="translate(225.0 520.2) scale(0.93 1)" text-anchor="middle" font-size="22">100</text>
<text transform="translate(327.0 520.2) scale(0.93 1)" text-anchor="middle" font-size="22">200</text>
<text transform="translate(429.0 520.2) scale(0.93 1)" text-anchor="middle" font-size="22">300</text>
<text transform="translate(530.9 520.2) scale(0.93 1)" text-anchor="middle" font-size="22">400</text>
<text transform="translate(632.9 520.2) scale(0.93 1)" text-anchor="middle" font-size="22">500</text>
<text x="378.5" y="559.2" text-anchor="middle" font-size="25.5">Simulation time(ps)</text>
<text transform="translate(25.2 328.4) rotate(-90)" font-size="24.8">Density(g/cm<tspan font-size="18.5" dy="-10.5">3</tspan><tspan dy="10.5">)</tspan></text>
</svg>
</body></html>
